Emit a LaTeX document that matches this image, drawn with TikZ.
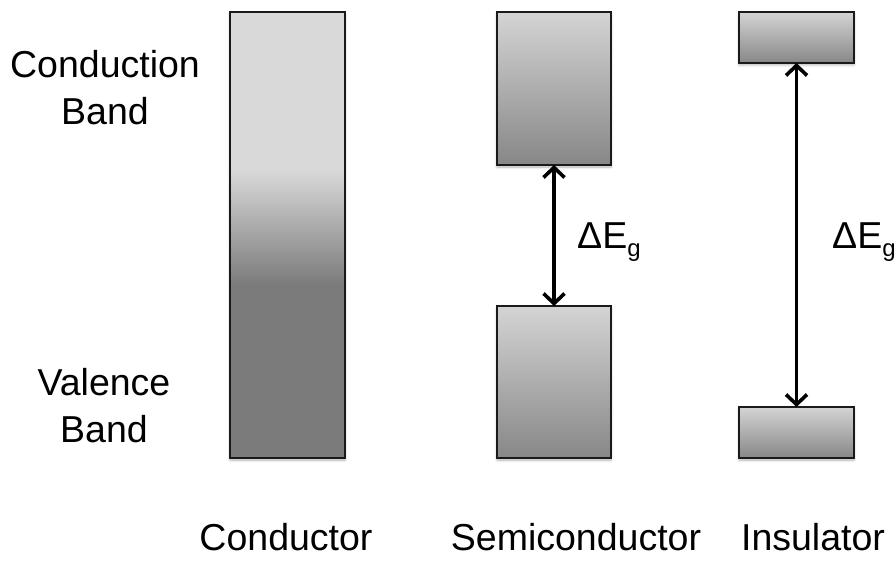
\documentclass[tikz,border=0pt]{standalone}
\usepackage{fontspec}
\setmainfont{Liberation Sans}
\usetikzlibrary{arrows.meta,shadows.blur}

\definecolor{bandlight}{HTML}{D9D9D9}
\definecolor{banddark}{HTML}{7B7B7B}
\definecolor{boxtop}{HTML}{D4D4D4}
\definecolor{boxbot}{HTML}{878787}
\definecolor{edge}{HTML}{1A1A1A}

% overlapping bands of a conductor: light above, dark below, blended in between
\pgfdeclareverticalshading{overlapband}{100bp}{%
  color(0bp)=(banddark); color(44.4bp)=(banddark);
  color(57.3bp)=(bandlight); color(100bp)=(bandlight)}

\tikzset{
  bandframe/.style={draw=edge, line width=1.5pt, inner sep=0pt, outer sep=0pt,
    blur shadow={shadow xshift=0pt, shadow yshift=-2pt,
      shadow blur radius=2.5pt, shadow opacity=30}},
  band/.style={bandframe, top color=boxtop, bottom color=boxbot},
  gaparrow/.style={line width=3.6pt,
    {Straight Barb[length=10pt,width=21pt]}-{Straight Barb[length=10pt,width=21pt]}},
  label/.style={font=\fontsize{37.5}{47}\selectfont, inner sep=0pt, align=center},
}

\newcommand{\bandgap}{ΔE\raisebox{-8pt}{\fontsize{24}{24}\selectfont g}}

\begin{document}
\begin{tikzpicture}[x=1pt, y=-1pt]
  \useasboundingbox (0,0) rectangle (896,561);

  % conductor: one continuous band
  \node[bandframe, shading=overlapband, minimum width=115pt, minimum height=446pt]
    (cond) at (287.5,235) {};

  % semiconductor: two bands with a small gap
  \node[band, minimum width=114pt, minimum height=153pt] (scup) at (554,88.5) {};
  \node[band, minimum width=114pt, minimum height=152pt] (sclo) at (554,382) {};

  % insulator: two thin bands with a large gap
  \node[band, minimum width=115pt, minimum height=51pt] (inup) at (796.5,37.5) {};
  \node[band, minimum width=115pt, minimum height=51pt] (inlo) at (796.5,432.5) {};

  % band gaps
  \draw[gaparrow] (scup.south) -- (sclo.north);
  \draw[gaparrow] (inup.south) -- (inlo.north);
  \node[label, anchor=base west] (scgap) at (577,249) {\bandgap};
  \node[label, anchor=base west] (ingap) at (832,248) {\bandgap};

  % band names
  \node[label, anchor=north] (cbname) at (105,50.5) {Conduction\\Band};
  \node[label, anchor=north] (vbname) at (104,368) {Valence\\Band};

  % material names
  \node[label, anchor=base] (condname) at (286,550) {Conductor};
  \node[label, anchor=base] (seminame) at (576,550) {Semiconductor};
  \node[label, anchor=base] (insname) at (813,550) {Insulator};
\end{tikzpicture}
\end{document}
